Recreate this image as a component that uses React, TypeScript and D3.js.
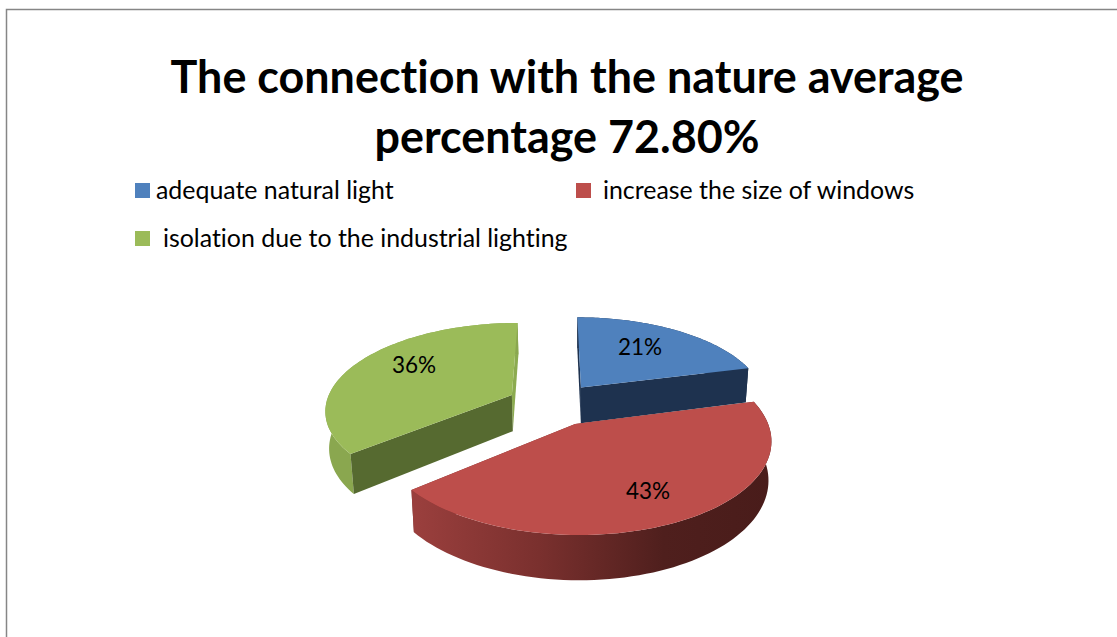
import React from "react";
import * as d3 from "d3";

// Chart content
const titleLines = ["The connection with the nature average", "percentage 72.80%"];
const categories = ["adequate natural light", "increase the size of windows", "isolation due to the industrial lighting"];
const shares = [21, 43, 36];
const topColors = ["#4f81bd", "#bd4e4b", "#9bbb59"];
const cutColors = ["#1e324f", "#7a2f2d", "#566a30"];
const endCutColors = ["#1e324f", "#7a2f2d", "#8cab50"];
const wallColors = ["#1e324f", "url(#redWall)", "#8aa74f"];
const legendX = [135, 576, 135];
const legendTextX = [156, 603, 163];
const legendY = [183, 183, 231];
const labelOffset = [
  [640, 347],
  [648, 491],
  [414, 365],
];

const W = 1117;
const H = 637;

// Perspective of the tilted pie plane: (u, v) are disc units, v grows towards the viewer.
const X0 = 554;
const Y0 = 424;
const RX = 193;
const RY = 92.7;
const K = 0.165;
const DEPTH = 38;
const DEPTH_K = 0.16;
const DROP_CX = 575;
const DROP_SCALE = 0.985;
const EXPLODE = 0.25;
const ORIGIN = [-0.004, -0.223];

const project = (u: number, v: number): [number, number] => {
  const s = 1 / (1 - K * v);
  return [X0 + RX * u * s, Y0 + RY * v * s];
};
// The underside of the pie sits lower and slightly narrower than the top.
const drop = (u: number, v: number): [number, number] => {
  const [x, y] = project(u, v);
  return [DROP_CX + (x - DROP_CX) * DROP_SCALE, y + DEPTH / (1 - DEPTH_K * v)];
};

const line = d3.line<[number, number]>().curve(d3.curveLinear);
const pieLayout = d3.pie<number>().sort(null).value((d) => d);

type Face = { d: string; fill: string; order: number };

function sliceGeometry(a0: number, a1: number, i: number) {
  const mid = (a0 + a1) / 2;
  const cu = ORIGIN[0] + EXPLODE * Math.sin(mid);
  const cv = ORIGIN[1] - EXPLODE * Math.cos(mid);
  const rim = (a: number): [number, number] => [cu + Math.sin(a), cv - Math.cos(a)];
  const angles = d3.range(0, 81).map((t) => a0 + ((a1 - a0) * t) / 80);
  const rimPts = angles.map(rim);

  const cutFace = (a: number, fill: string): Face => {
    const [u, v] = rim(a);
    const d = line([project(cu, cv), project(u, v), drop(u, v), drop(cu, cv)])!;
    return { d: d + "Z", fill, order: (cv + v) / 2 };
  };
  const wall: Face = {
    d:
      line([
        ...rimPts.map(([u, v]) => project(u, v)),
        ...rimPts.slice().reverse().map(([u, v]) => drop(u, v)),
      ])! + "Z",
    fill: wallColors[i],
    order: d3.mean(rimPts, (p) => p[1])!,
  };
  const faces = [cutFace(a0, cutColors[i]), cutFace(a1, endCutColors[i]), wall].sort(
    (p, q) => p.order - q.order
  );
  const top =
    line([project(cu, cv), ...rimPts.map(([u, v]) => project(u, v))])! + "Z";
  return { faces, top };
}

export default function App() {
  const arcs = pieLayout(shares);
  // Back slices are painted first so the front slice overlaps them.
  const paintOrder = [2, 0, 1];
  return (
    <svg
      width={W}
      height={H}
      viewBox={`0 0 ${W} ${H}`}
      style={{
        position: "fixed",
        left: 0,
        top: 0,
        background: "#fff",
        fontFamily: "Lato, sans-serif",
        fontVariantLigatures: "none",
      }}
    >
      <defs>
        <linearGradient id="redWall" gradientUnits="userSpaceOnUse" x1={415} x2={770} y1={0} y2={0}>
          <stop offset="0" stopColor="#9a3f3d" />
          <stop offset="0.35" stopColor="#7a302e" />
          <stop offset="0.7" stopColor="#4f1f1d" />
          <stop offset="1" stopColor="#491c1a" />
        </linearGradient>
      </defs>
      <path d={`M6.5 ${H}V9.5H${W}`} fill="none" stroke="#868686" strokeWidth={1.5} />

      {titleLines.map((t, i) => (
        <text key={t} x={567} y={93 + i * 60} textAnchor="middle" fontSize={44.9} fontWeight={700} fill="#000">
          {t}
        </text>
      ))}

      {categories.map((c, i) => (
        <g key={c}>
          <rect x={legendX[i]} y={legendY[i]} width={15} height={15} fill={topColors[i]} />
          <text x={legendTextX[i]} y={legendY[i] + 15.5} fontSize={24.9} fill="#000">
            {c}
          </text>
        </g>
      ))}

      {paintOrder.map((i) => {
        const { faces, top } = sliceGeometry(arcs[i].startAngle, arcs[i].endAngle, i);
        return (
          <g key={categories[i]}>
            {faces.map((f, j) => (
              <path key={j} d={f.d} fill={f.fill} />
            ))}
            <path d={top} fill={topColors[i]} />
          </g>
        );
      })}

      {shares.map((s, i) => (
        <text key={i} x={labelOffset[i][0]} y={labelOffset[i][1]} dy="0.35em" textAnchor="middle" fontSize={22.5} fill="#000">
          {s}%
        </text>
      ))}
    </svg>
  );
}
